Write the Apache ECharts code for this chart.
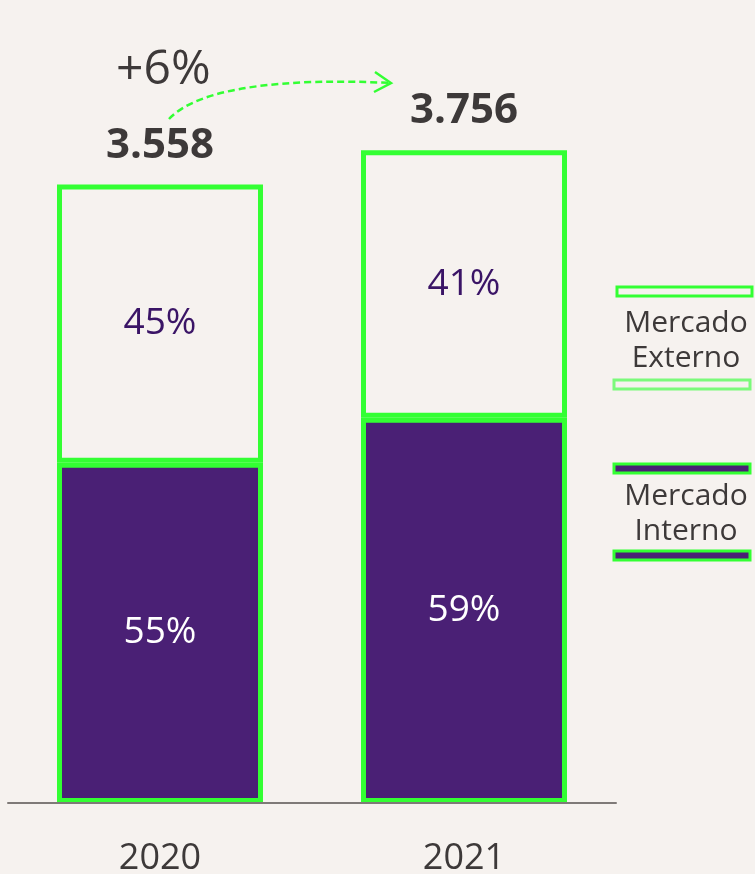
<!DOCTYPE html>
<html>
<head>
<meta charset="utf-8">
<script src="https://cdn.jsdelivr.net/npm/echarts@6/dist/echarts.min.js"></script>
<style>
html,body{margin:0;padding:0;background:#f6f2ef;}
#chart{width:755px;height:874px;}
</style>
</head>
<body>
<div id="chart"></div>
<script>
const years = ['2020', '2021'];
const interno = [1957, 2216];
const externo = [1601, 1540];
const totals = [3558, 3756];
const totalLabels = ['3.558', '3.756'];
const internoPct = ['55%', '59%'];
const externoPct = ['45%', '41%'];
const growthLabel = '+6%';
const legendNames = ['Mercado\nExterno', 'Mercado\nInterno'];

const GREEN = '#33ff33';
const PURPLE = '#4a2075';
const BG = '#f6f2ef';
const DARK = '#3d3939';
const FONT = '"Open Sans", "Noto Sans", sans-serif';

const chart = echarts.init(document.getElementById('chart'), null, {renderer: 'canvas'});

chart.setOption({
  backgroundColor: BG,
  animation: false,
  textStyle: {fontFamily: FONT},
  grid: {left: 8, right: 139, top: 0, bottom: 71, containLabel: false, outerBoundsMode: 'none'},
  xAxis: {
    type: 'category',
    data: years,
    z: 5,
    axisLine: {lineStyle: {color: '#7f7a78', width: 2}},
    axisTick: {show: false},
    axisLabel: {color: DARK, fontSize: 36, margin: 38, fontFamily: FONT}
  },
  yAxis: {
    type: 'value', min: 0, max: 4620, show: false,
    splitLine: {show: false}
  },
  series: [
    {
      name: 'Mercado Interno', type: 'bar', stack: 'm', barWidth: 206,
      data: interno,
      itemStyle: {color: PURPLE, borderColor: GREEN, borderWidth: 5},
      label: {show: true, position: 'inside', color: '#ffffff', fontSize: 37, fontFamily: FONT,
        formatter: p => internoPct[p.dataIndex]}
    },
    {
      name: 'Mercado Externo', type: 'bar', stack: 'm', barWidth: 206,
      data: externo,
      itemStyle: {color: BG, borderColor: GREEN, borderWidth: 5},
      label: {show: true, position: 'inside', color: '#3a1466', fontSize: 37, fontFamily: FONT,
        formatter: p => externoPct[p.dataIndex]}
    },
    {
      name: 'Total', type: 'scatter', symbolSize: 0,
      data: totals.map((v, i) => [i, v]),
      itemStyle: {opacity: 1},
      label: {show: true, position: 'top', distance: 18, color: DARK, opacity: 1, fontSize: 42, fontWeight: 'bold', fontFamily: FONT,
        formatter: p => totalLabels[p.dataIndex]}
    }
  ],
  graphic: [
    {type: 'text', left: 116, top: 46, style: {text: growthLabel, fill: DARK, font: '48px ' + FONT}},
    {type: 'bezierCurve', shape: {x1: 169, y1: 119, cpx1: 200, cpy1: 86, cpx2: 290, cpy2: 78, x2: 391, y2: 83},
      style: {stroke: GREEN, lineWidth: 2.5, lineDash: [7, 4], fill: null}},
    {type: 'polyline', shape: {points: [[375, 72], [391, 83], [374, 92]]},
      style: {stroke: GREEN, lineWidth: 2.5, fill: null}},
    // legend: Mercado Externo
    {type: 'rect', shape: {x: 617, y: 287, width: 135, height: 9}, style: {fill: BG, stroke: GREEN, lineWidth: 3}},
    {type: 'text', x: 686, y: 306, style: {text: legendNames[0], fill: DARK, font: '30px ' + FONT, align: 'center', verticalAlign: 'top', lineHeight: 35}},
    {type: 'rect', shape: {x: 614, y: 380, width: 136, height: 9}, style: {fill: BG, stroke: '#7bfa7b', lineWidth: 3}},
    // legend: Mercado Interno
    {type: 'rect', shape: {x: 614, y: 464, width: 136, height: 9}, style: {fill: PURPLE, stroke: GREEN, lineWidth: 3}},
    {type: 'text', x: 686, y: 479, style: {text: legendNames[1], fill: DARK, font: '30px ' + FONT, align: 'center', verticalAlign: 'top', lineHeight: 35}},
    {type: 'rect', shape: {x: 614, y: 551, width: 136, height: 9}, style: {fill: PURPLE, stroke: GREEN, lineWidth: 3}}
  ]
});
</script>
</body>
</html>
